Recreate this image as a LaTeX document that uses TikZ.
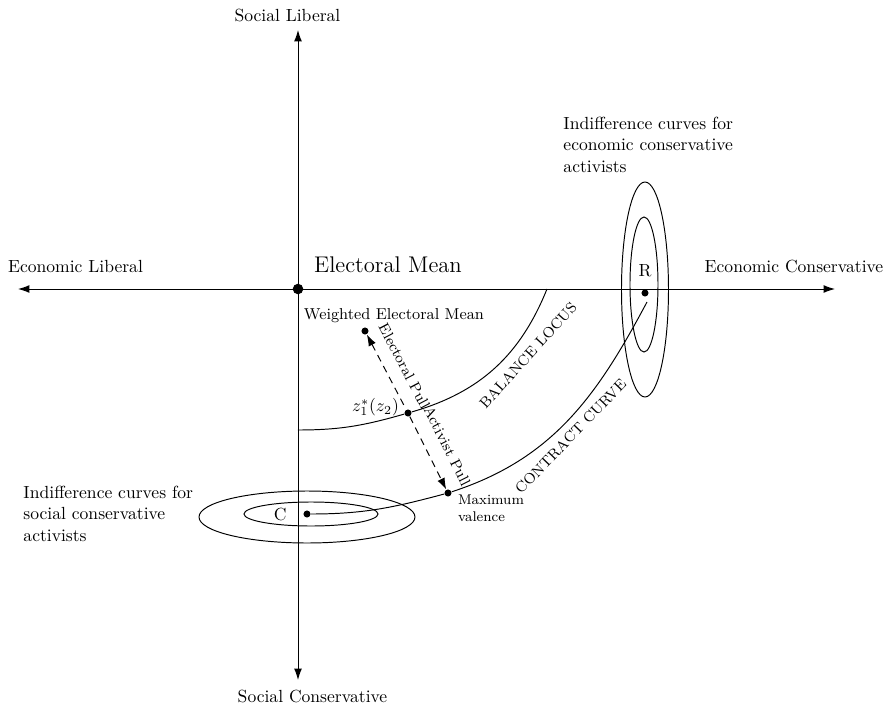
\documentclass[tikz,border=0pt]{standalone}
\usepackage{amsmath}
\usetikzlibrary{arrows.meta,positioning}

\begin{document}
\begin{tikzpicture}[>={Latex[length=6.5pt,width=4.5pt]},line width=0.55pt,
    dot/.style={circle,fill,inner sep=0pt,minimum size=4pt},
    pull/.style={dash pattern=on 4pt off 3pt},
    slant/.style={font=\fontsize{8.4}{10}\selectfont}]
  \useasboundingbox (-5.96,-8.38) rectangle (11.78,5.78);
  % axes
  \coordinate (xl) at (-5.6,0);
  \coordinate (xr) at (10.74,0);
  \coordinate (yt) at (0,5.18);
  \coordinate (yb) at (0,-7.82);
  \draw[<->] (xl) -- (xr);
  \draw[<->] (yb) -- (yt);
  \node (ecl) at (-4.45,0.46) {Economic Liberal};
  \node (ecc) at (9.92,0.46) {Economic Conservative};
  \node (sol) at (-0.21,5.47) {Social Liberal};
  \node (soc) at (0.29,-8.14) {Social Conservative};
  % points
  \node[dot,minimum size=6pt] (em) at (0,0) {};
  \node[font=\fontsize{12.9}{15}\selectfont] (emlabel) at (1.8,0.48) {Electoral Mean};
  \foreach \p/\n in {(1.34,-0.84)/wem,(2.2,-2.48)/z,(3.0,-4.08)/maxv,(0.18,-4.5)/cdot,(6.94,-0.08)/rdot}
    \node[dot] (\n) at \p {};
  \node[font=\small] (wemlabel) at (1.92,-0.54) {Weighted Electoral Mean};
  \node (zlabel) at (1.55,-2.36) {$z_1^*(z_2)$};
  \node[font=\footnotesize,align=left] (maxvlabel) at (3.86,-4.38) {Maximum\\valence};
  \node[left=5.8pt of cdot] (clabel) {C};
  \node[above=3.3pt of rdot] (rlabel) {R};
  % indifference curves
  \draw (0.18,-4.56) ellipse (2.16 and 0.52);
  \draw (0.26,-4.5) ellipse (1.34 and 0.24);
  \draw (6.94,-0.01) ellipse (0.47 and 2.15);
  \draw (6.92,0.09) ellipse (0.28 and 1.35);
  \node[align=left,anchor=north west,inner sep=0pt] (rtext) at (5.3,3.44)
    {Indifference curves for\\economic conservative\\activists};
  \node[align=left,anchor=north west,inner sep=0pt] (ctext) at (-5.5,-3.94)
    {Indifference curves for\\social conservative\\activists};
  % balance locus
  \coordinate (ba) at (0,-2.82);
  \coordinate (bb) at (4.98,0);
  \draw (ba) to[out=0,in=196] (z) to[out=16,in=-112] (bb);
  \node[slant,rotate=48] (ballabel) at (4.6,-1.33) {BALANCE LOCUS};
  % contract curve
  \coordinate (rend) at (6.98,-0.26);
  \draw (cdot) to[out=0,in=195] (maxv) to[out=18,in=-118] (rend);
  \node[slant,rotate=46] (conlabel) at (5.45,-2.95) {CONTRACT CURVE};
  % pulls
  \draw[pull,<-] (wem) -- node[slant,pos=0.54,sloped,above=4pt] {Electoral Pull} (z);
  \draw[pull,->] (z) -- node[slant,pos=0.53,sloped,above=5pt] {Activist Pull} (maxv);
\end{tikzpicture}
\end{document}
